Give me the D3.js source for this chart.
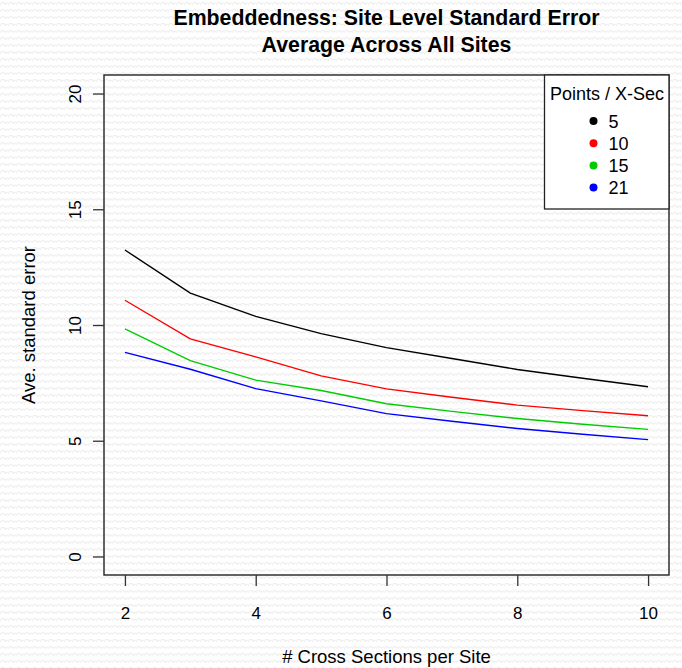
<!DOCTYPE html>
<html>
<head>
<meta charset="utf-8">
<script src="https://cdn.jsdelivr.net/npm/d3@7"></script>
<style>
  body { margin: 0; background: #fff; }
  svg text { font-family: "Liberation Sans", Arial, sans-serif; fill: #000; }
</style>
</head>
<body>
<div id="chart"></div>
<script>
// cross sections per site
let sections = [2, 3, 4, 5, 6, 7, 8, 9, 10];

// points per cross section -> average standard error
let pts5  = [13.24, 11.38, 10.37, 9.63, 9.02, 8.55, 8.08, 7.70, 7.33];
let pts10 = [11.07, 9.40, 8.62, 7.80, 7.24, 6.88, 6.54, 6.30, 6.08];
let pts15 = [9.83, 8.46, 7.62, 7.17, 6.60, 6.27, 5.96, 5.71, 5.49];
let pts21 = [8.82, 8.09, 7.25, 6.72, 6.17, 5.84, 5.53, 5.28, 5.05];

let legendLabels = ["5", "10", "15", "21"];
let xTicks = [2, 4, 6, 8, 10];
let yTicks = [0, 5, 10, 15, 20];

function renderChart(){
  let width = 682, height = 668;
  let left = 104, right = 669, top = 75, bottom = 575;

  let svg = d3.select("#chart")
    .append("svg")
    .attr("width", width)
    .attr("height", height);

  // faint wavy background
  let pat = svg.append("defs").append("pattern")
    .attr("id", "bg")
    .attr("width", 8)
    .attr("height", 7)
    .attr("patternUnits", "userSpaceOnUse");
  pat.append("rect").attr("width", 8).attr("height", 7).attr("fill", "#fff");
  pat.append("path")
    .attr("d", "M0,5 Q2,1 4,3 T8,3")
    .attr("fill", "none")
    .attr("stroke", "#efefef")
    .attr("stroke-width", 1.2);
  svg.append("rect").attr("width", width).attr("height", height).attr("fill", "url(#bg)");

  // R style 4% padding on both axes
  let x = d3.scaleLinear().domain([1.68, 10.32]).range([left, right]);
  let y = d3.scaleLinear().domain([-0.8, 20.8]).range([bottom, top]);

  let colors = ["#000000", "#ff0000", "#00cd00", "#0000ff"];
  let series = [pts5, pts10, pts15, pts21];

  let line = d3.line()
    .x(function(d, i){ return x(sections[i]) })
    .y(function(d){ return y(d) });

  svg.append("g")
    .selectAll("path")
    .data(series)
    .enter()
    .append("path")
      .attr("d", line)
      .attr("fill", "none")
      .attr("stroke", function(d, i){ return colors[i] })
      .attr("stroke-width", 1.4);

  // box
  svg.append("rect")
    .attr("x", left).attr("y", top)
    .attr("width", right - left).attr("height", bottom - top)
    .attr("fill", "none")
    .attr("stroke", "#222")
    .attr("stroke-width", 1.4);

  // axes
  let xAxis = d3.axisBottom(x).tickValues(xTicks).tickSize(11);
  let gx = svg.append("g").attr("transform", `translate(0,${bottom})`).call(xAxis);
  gx.select(".domain").remove();
  gx.selectAll("line").attr("stroke", "#333").attr("stroke-width", 1.3);
  gx.selectAll("text").style("font-size", "17px").attr("dy", 0).attr("y", 44);

  let yAxis = d3.axisLeft(y).tickValues(yTicks).tickSize(11);
  let gy = svg.append("g").attr("transform", `translate(${left},0)`).call(yAxis);
  gy.select(".domain").remove();
  gy.selectAll("line").attr("stroke", "#333").attr("stroke-width", 1.3);
  gy.selectAll("text")
    .style("font-size", "17px")
    .attr("x", null).attr("dy", null)
    .attr("text-anchor", "middle")
    .attr("transform", "translate(-23,0) rotate(-90)");

  // titles
  svg.append("text")
    .attr("x", (left + right) / 2).attr("y", 25)
    .attr("text-anchor", "middle")
    .style("font-size", "21.3px").style("font-weight", "bold")
    .text("Embeddedness: Site Level Standard Error");
  svg.append("text")
    .attr("x", (left + right) / 2).attr("y", 51.5)
    .attr("text-anchor", "middle")
    .style("font-size", "21.3px").style("font-weight", "bold")
    .text("Average Across All Sites");

  svg.append("text")
    .attr("x", (left + right) / 2).attr("y", 663)
    .attr("text-anchor", "middle")
    .style("font-size", "18.5px")
    .text("# Cross Sections per Site");

  svg.append("text")
    .attr("transform", `translate(35,${(top + bottom) / 2}) rotate(-90)`)
    .attr("text-anchor", "middle")
    .style("font-size", "18.5px")
    .text("Ave. standard error");

  // legend
  let lg = svg.append("g");
  lg.append("rect")
    .attr("x", 544.5).attr("y", top)
    .attr("width", right - 544.5).attr("height", 134)
    .attr("fill", "#fff")
    .attr("stroke", "#222")
    .attr("stroke-width", 1.3);
  lg.append("text")
    .attr("x", 607).attr("y", 99.5)
    .attr("text-anchor", "middle")
    .style("font-size", "18px")
    .text("Points / X-Sec");

  let item = lg.selectAll(".item")
    .data(legendLabels)
    .enter()
    .append("g")
      .attr("class", "item")
      .attr("transform", function(d, i){ return `translate(593.5,${121 + i * 22.2})` });
  item.append("circle")
    .attr("r", 4)
    .attr("fill", function(d, i){ return colors[i] });
  item.append("text")
    .attr("x", 15).attr("y", 6.5)
    .style("font-size", "18px")
    .text(function(d){ return d });
}

renderChart();
</script>
</body>
</html>
